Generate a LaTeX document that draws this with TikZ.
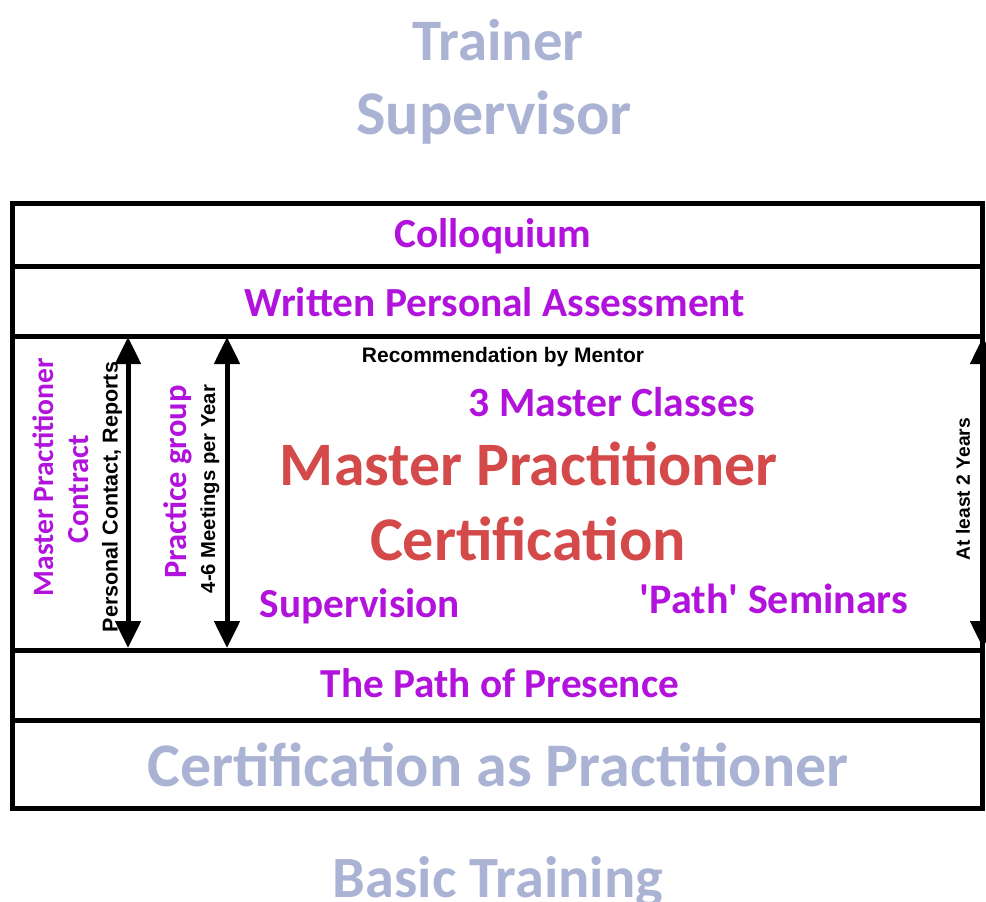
\documentclass[tikz,border=0pt]{standalone}
\usepackage{fontspec}
\setmainfont{Carlito}
\newfontfamily\plaincar{Carlito}
\newfontfamily\arialf{Liberation Sans}
\usetikzlibrary{arrows.meta}
\definecolor{magc}{HTML}{B112DC}
\definecolor{redc}{HTML}{D44A4A}
\definecolor{paleb}{HTML}{AAB3D3}
\newcommand{\fitw}[2]{\resizebox{#1pt}{!}{#2}}
\tikzset{
  lbl/.style={inner sep=0pt, anchor=base},
  vlbl/.style={inner sep=0pt, rotate=90},
  mag/.style={text=magc, font=\bfseries},
  pale/.style={text=paleb, font=\bfseries},
  redt/.style={text=redc, font=\bfseries},
  blk/.style={text=black, font=\arialf\bfseries},
  frame/.style={line width=5pt, draw=black},
  darrow/.style={line width=5pt, {Triangle[length=27pt,width=25pt]}-{Triangle[length=27pt,width=25pt]}}
}
\begin{document}
\begin{tikzpicture}[x=1pt,y=-1pt]
\useasboundingbox[fill=white] (0,0) rectangle (986,902);
% frame
\draw[frame] (12,203) rectangle (982,808);
\draw[frame] (12,266) -- (982,266);
\draw[frame] (12,336) -- (982,336);
\draw[frame] (12,650) -- (982,650);
\draw[frame] (12,720) -- (982,720);
% outside labels
\node[lbl,pale] (trainer) at (498,60) {\fitw{171}{Trainer}};
\node[lbl,pale] (superv) at (494,134) {\fitw{275}{Supervisor}};
\node[lbl,pale] (basic) at (498,897) {\fitw{330}{Basic Training}};
% rows
\node[lbl,mag] (coll) at (493,247) {\fitw{197}{Colloquium}};
\node[lbl,mag] (wpa) at (495,316) {\fitw{500}{Written Personal Assessment}};
\node[lbl,mag] (pop) at (500,697) {\fitw{358}{The Path of Presence}};
\node[lbl,pale] (cap) at (498,786) {\fitw{701}{Certification as Practitioner}};
% middle
\node[lbl,blk] (rec) at (503,362) {\fitw{282}{Recommendation by Mentor}};
\node[lbl,mag] (mc) at (612,416) {\fitw{286}{3 Master Classes}};
\node[lbl,redt] (mp) at (529,485) {\fitw{498}{Master Practitioner}};
\node[lbl,redt] (cert) at (528,560) {\fitw{316}{Certification}};
\node[lbl,mag] (sup) at (360,617) {\fitw{200}{Supervision}};
\node[lbl,mag] (pathsem) at (774,613) {\fitw{268}{\plaincar\bfseries 'Path' Seminars}};
% vertical labels
\node[vlbl,mag] (mpc1) at (43,477) {\fitw{238}{Master Practitioner}};
\node[vlbl,mag] (mpc2) at (79,489) {\fitw{108}{Contract}};
\node[vlbl,blk] (pcr) at (112,497) {\fitw{270}{Personal Contact, Reports}};
\node[vlbl,mag] (pg) at (178,482) {\fitw{193}{Practice group}};
\node[vlbl,blk] (mpy) at (210,489) {\fitw{208}{4-6 Meetings per Year}};
\node[vlbl,blk] (al2) at (963,489) {\fitw{142}{At least 2 Years}};
% arrows
\coordinate (a1t) at (128,337);
\coordinate (a1b) at (128,648);
\coordinate (a2t) at (227,337);
\coordinate (a2b) at (227,648);
\coordinate (a3t) at (983,337);
\coordinate (a3b) at (983,648);
\draw[darrow] (a1t) -- (a1b);
\draw[darrow] (a2t) -- (a2b);
\draw[darrow] (a3t) -- (a3b);
\end{tikzpicture}
\end{document}
